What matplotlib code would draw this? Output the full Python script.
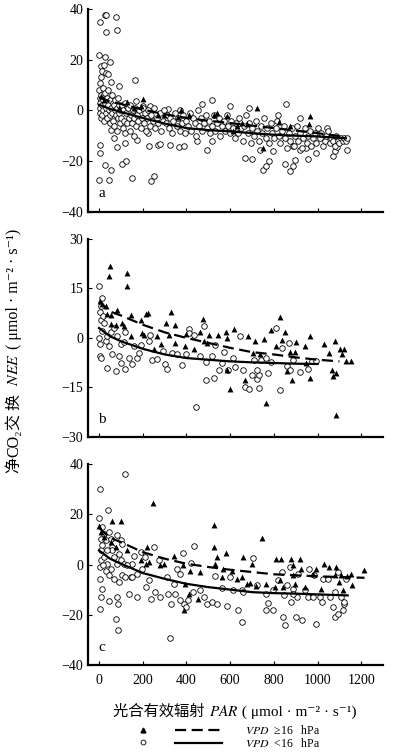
import numpy as np
import matplotlib
matplotlib.use("Agg")
import matplotlib.pyplot as plt
from matplotlib.lines import Line2D
from matplotlib.text import Annotation

plt.rcParams.update({
    'font.family': ['Liberation Serif', 'Noto Sans CJK SC', 'DejaVu Serif'],
    'mathtext.fontset': 'stix',
    'font.size': 10,
    'axes.linewidth': 1.6,
    'xtick.direction': 'in',
    'ytick.direction': 'in',
    'xtick.major.size': 3,
    'ytick.major.size': 3,
    'xtick.major.pad': 6,
})

# ---- panel a : (PAR, NEE) ----
a_low = np.array([  # VPD < 16 hPa
    (3, 34.9), (27, 37.8), (33, 37.8), (32, 30.9), (77, 36.8), (80, 31.6),
    (0, 22), (8, 17.6), (27, 21), (24, 18), (49, 19), (12, 15.4), (33, 14.7),
    (43, 14.5), (56, 11.4), (91, 9.7), (165, 12.1), (8, 13.2), (5, 10.8),
    (5, -13.8), (3, -16.8), (-2, -27.4), (26, -21.4), (47, -27.4), (56, -23.7),
    (80, -14.5), (103, -21), (123, -20), (118, -12.9), (152, -26.7), (238, -28),
    (250, -26), (228, -14.2), (272, -13.6), (280, -13.2), (323, -13.7),
    (366, -14.5), (387, -13.9), (53, -7.6), (68, -10.9), (175, -11.6), (223, -9),
    (496, -15.8), (515, -12.2), (448, -12.2), (669, -18.8), (700, -19.2),
    (751, -23.4), (766, -21.8), (779, -20), (850, -21), (873, -24.1), (888, -21.8),
    (897, -19.5), (956, -19.2), (991, -16.8), (1070, -18.2), (1078, -16.2),
    (1088, -14.6), (1134, -15.8), (736, -15.5), (795, -16.2), (888, -14.2),
    (918, -15.5), (948, -14.9), (469, 2.6), (516, 3.9), (597, 1.6), (685, 0.9),
    (820, -1.7), (855, 2.5), (921, -3), (1044, -7), (372, 0.3), (314, 0.5),
    (202, 1.8), (168, 3.6), (235, 1.8),
    (2, 8), (4, 5), (6, 3), (3, 1), (5, -1), (8, -3), (10, 6), (12, 2), (14, -2),
    (16, 9), (18, 4), (20, 0), (22, -4), (25, 7), (28, 3), (30, -1), (32, 1),
    (35, 5), (38, -3), (40, 2), (42, 8), (45, 0), (48, -2), (50, 4), (52, -5),
    (55, 1), (58, 6), (60, -1), (62, 3), (65, -4), (68, 2), (70, -6), (72, 0),
    (75, 4), (78, -2), (80, 1), (82, -8), (85, -3), (88, 5), (90, -1), (92, 2),
    (95, -5), (98, 0),
    (102, -3), (105, 2), (108, -7), (110, 0), (115, -4), (118, 3), (120, -9),
    (125, -1), (128, -5), (132, 1), (135, -3), (140, -8), (142, 2), (145, -2),
    (150, -5), (155, 0), (158, -10), (162, -3), (165, 1), (170, -6), (175, -2),
    (180, -4), (185, 0), (190, -7), (195, -3), (200, 1), (205, -5), (210, -1),
    (215, -8), (220, -3), (225, 0), (232, -6), (238, -2), (245, -4), (250, 1),
    (258, -7), (265, -3), (270, -5), (278, -1), (285, -8), (292, -4), (298, 0),
    (305, -5), (312, -2), (318, -7), (325, -3), (332, -9), (340, -4), (348, -1),
    (355, -6), (362, -3), (370, -8), (378, -5), (385, -2), (392, -9), (400, -4),
    (408, -6), (415, -1), (422, -8), (430, -3), (438, -5), (445, -10), (452, 0),
    (458, -6), (465, -3), (472, -8), (480, -5), (488, -2), (495, -7), (502, -4),
    (510, -9), (518, -6), (525, -2), (532, -8), (540, -5), (548, -3), (555, -10),
    (562, -6), (570, -4), (578, -8), (585, -2), (592, -6), (598, -9),
    (605, -4), (612, -7), (620, -11), (628, -5), (635, -9), (642, -3), (650, -7),
    (658, -12), (665, -6), (672, -2), (680, -9), (688, -5), (695, -13), (702, -7),
    (710, -10), (718, -4), (725, -8), (732, -12), (740, -6), (748, -9), (755, -3),
    (762, -11), (770, -7), (778, -13), (785, -5), (792, -9), (800, -11), (808, -7),
    (815, -4), (822, -10), (830, -13), (838, -8), (845, -6), (852, -11), (860, -15),
    (868, -9), (875, -12), (882, -7), (890, -14), (898, -10),
    (905, -6), (912, -12), (920, -9), (928, -15), (935, -11), (942, -7), (950, -13),
    (958, -10), (965, -8), (972, -14), (980, -11), (988, -9), (995, -13), (1002, -7),
    (1010, -11), (1018, -9), (1025, -14), (1032, -12), (1040, -10), (1048, -8),
    (1055, -13), (1062, -11), (1070, -12), (1078, -14), (1085, -10), (1092, -12),
    (1100, -13), (1108, -11), (1115, -12), (1122, -11), (1130, -12), (1135, -11),
])
a_high = np.array([  # VPD >= 16 hPa
    (129, 3.3), (202, 4.5), (194, 1.8), (269, -1.7), (296, -1.7), (376, 0.3),
    (360, -2.6), (410, -1.7), (524, -1.7), (539, -1), (584, -2.4), (630, -6),
    (653, -5), (675, -5.3), (721, 0.9), (751, -14.9), (824, -4.7), (873, -6),
    (964, -2.1), (961, -5.3), (615, -8.3), (23, 4.2), (8, 5.5), (91, 0.9),
    (159, 0.9),
])
a_fit_x = [0, 50, 100, 200, 300, 400, 500, 600, 700, 800, 900, 1000, 1130]
a_fit_high = [5.0, 3.6, 2.5, 0.3, -1.5, -3.0, -4.1, -5.0, -6.0, -7.0, -8.0, -9.0, -10.5]
a_fit_low = [2.2, 0.6, -0.6, -3.0, -5.2, -7.0, -7.8, -8.3, -9.0, -9.6, -10.0, -10.3, -11.0]

# ---- panel b ----
b_low = np.array([
    (0, 15.7), (15, 12.1), (5, 7.8), (8, 5.3), (23, 4.5), (11, 9.6), (0, 0),
    (3, -1.7), (15, 2), (30, -1), (38, 0.5), (3, -5.6), (8, -6.1), (35, -9.1),
    (61, -5), (76, -10.1), (91, -5.6), (99, -1.7), (118, -9.4), (121, 1.7),
    (137, -6.1), (152, -7.9), (159, -2.3), (175, -6.1), (182, -4.5), (190, -2),
    (228, -1), (235, 1), (243, -6.6), (266, -6.4), (291, -4), (304, -7.9),
    (311, -9.4), (334, -4.5), (357, -5), (380, -8.1), (399, -5), (410, 2.7),
    (410, 1.5), (433, 1), (445, -20.9), (478, 3.5), (463, -5.6), (490, -12.6),
    (490, -7.4), (516, -5.4), (524, -12.1), (531, -2), (551, -9.8), (562, -7.6),
    (573, -4.3), (592, -9.6), (615, -6.1), (622, -8.8), (645, 0.5), (657, -9.8),
    (669, -15), (686, -15.4), (698, -11.1), (709, -6.6), (721, -12.4),
    (730, -15.2), (733, -11.1), (739, -6.8), (762, -6.1), (774, -10.6),
    (785, -7.4), (812, 3), (827, -15.9), (839, -3), (858, -8.6), (870, -1.5),
    (873, -9.6), (888, -6.6), (921, -10.4), (956, -9.4), (976, -7.1), (995, -7.1),
    (114, -1.3), (83, 0.5), (53, 1.7), (46, -2.5), (18, 6.6), (68, 3),
    (99, -7.6), (721, -9.6),
])
b_high = np.array([
    (49, 21.9), (46, 18.7), (129, 19.7), (129, 15.7), (5, 11.1), (15, 10.4),
    (30, 9.6), (38, 7.1), (53, 6.8), (80, 8.4), (53, 4.3), (76, 4), (114, 3.7),
    (106, 4.5), (144, 6.8), (144, 0.7), (190, 5.4), (213, 7.1), (223, 7.6),
    (197, 1.5), (205, 1), (285, -1.7), (308, 4.5), (331, 7.8), (348, 4),
    (319, 1), (346, -1.5), (395, -2.3), (399, 1.3), (436, -3.3), (475, 5.8),
    (460, 1.7), (478, -1), (493, -1.5), (501, 1), (546, 1), (581, 1.7), (584, 0),
    (619, 2.7), (597, -15.5), (584, -9.6), (683, 0.5), (712, -1), (668, -12.6),
    (706, -4.5), (736, -5), (762, -19.7), (755, -0.2), (785, 2.3), (830, 6.4),
    (812, -2.5), (839, -0.5), (850, 1.7), (858, -10.1), (873, -4.3),
    (882, -12.6), (903, -1.3), (896, -4.3), (941, -2.5), (967, 0.7),
    (964, -12.1), (949, -7.6), (1029, -1.7), (1052, -4.5), (1067, -9.6),
    (1070, -11.6), (1078, -1), (1085, -10.6), (1085, -23.2), (1105, -3.5),
    (1120, -3.5), (1113, -5), (1128, -7.1), (1155, -7.1), (250, -3.5), (265, 0.5),
])
b_fit_x_high = [0, 50, 100, 200, 300, 400, 500, 600, 700, 800, 900, 1000, 1100]
b_fit_high = [11.1, 8.0, 6.8, 4.0, 1.7, 0.0, -1.5, -3.0, -4.3, -5.0, -5.9, -6.6, -7.1]
b_fit_x_low = [0, 50, 100, 200, 300, 400, 500, 600, 700, 800, 900, 1000]
b_fit_low = [3.0, 0.5, -1.0, -3.3, -5.0, -6.1, -6.6, -7.1, -7.4, -7.6, -7.8, -7.9]

# ---- panel c ----
c_low = np.array([
    (5, 30.2), (121, 36.2), (41, 21.9), (0, 18.7), (5, -17.5),
    (11, -12.9), (15, -9.5), (46, -14.5), (76, -21.5), (87, -26.1), (84, -12.9),
    (87, -15.5), (5, -5.6), (15, 15), (23, 12.3), (30, 9.7), (46, 13), (53, 10.3),
    (61, 7), (83, 11.7), (99, 9.7), (106, 8.4), (8, 5.7), (8, 1.7), (5, -0.9),
    (23, 3), (38, 0.4), (53, -1.6), (61, 5.7), (68, 3), (91, 4.4), (99, 1.7),
    (114, 0.4), (30, -2.3), (46, -4.2), (68, -5.6), (91, -6.9), (106, -4.2),
    (121, -4.9), (137, -11.5), (144, -4.9), (152, 0.4), (159, 3.3), (175, -3.6),
    (175, -12.9), (190, 5), (197, -1.6), (208, 3), (217, -8.9), (228, -6.2),
    (238, -13.5), (250, 7), (258, -10.9), (273, 1.7), (281, -12.9), (311, -4.9),
    (314, -11.5), (326, -29), (329, -15.5), (342, -7.6), (349, -11.5),
    (357, -1.6), (372, -3.8), (369, -14.2), (384, 4.6), (390, -15.8),
    (399, -16.8), (405, -14.2), (420, 0.7), (429, -10.9), (436, 7.3),
    (463, -10.2), (478, -12.9), (493, -15.8), (516, -14.9), (531, -4.6),
    (539, -15.8), (562, -9.2), (584, -16.6), (600, -4.9), (615, -9.9),
    (638, -18.2), (653, -10.2), (653, -22.8), (660, -10.9), (703, 2.8),
    (721, -8.2), (766, -18.2), (774, -15.3), (797, -17.9), (797, -10.2),
    (820, -6.2), (835, -2.9), (840, -20.6), (850, -24.1), (846, -12.2),
    (858, -8.2), (873, -0.9), (880, -14.9), (888, -9.5), (903, -20.8),
    (906, -12.9), (911, -3.6), (930, -21.9), (941, -10.2), (956, -12.9),
    (961, -1.6), (982, -4.2), (991, -23.7), (1009, -12.9), (1021, -14.9),
    (1024, -5.6), (1047, -5.6), (1058, -12.9), (1070, -16.8), (1078, -10.9),
    (1082, -20.8), (1093, -2.9), (1093, -19.5), (1108, -12.9), (1116, -18.2),
    (1119, -15.8), (1123, -14.9), (1131, -5.6), (20, -0.3), (15, 7.7), (38, 5.7),
    (84, 0.4), (129, -0.3), (152, -4.9), (8, 10.3), (766, -11.5), (888, -11.5),
    (979, -12.9),
])
c_high = np.array([
    (0, 15.6), (58, 17.4), (102, 17.2), (8, 13), (23, 11), (53, 9), (129, 5.7),
    (76, 7), (247, 24.5), (190, 1.7), (220, 7), (228, 1.1), (213, 0.4),
    (278, -0.3), (296, 0.4), (342, 3.3), (384, -0.3), (417, -2.3), (395, -7.6),
    (390, -17.9), (410, -11.5), (463, -2.9), (451, -13.5), (524, 16), (524, 7),
    (539, 3), (531, 0.4), (569, -1.6), (580, 4.6), (562, -4.9), (607, -2.3),
    (630, -5.6), (657, 3), (653, -4.9), (698, 0.4), (691, -7.3), (718, -8.6),
    (746, 10.7), (762, -7.6), (805, -8.9), (812, 2.4), (832, 2.4), (827, -6.2),
    (842, -8.9), (880, 2.3), (921, 2.3), (888, -4.2), (896, -7.6), (926, -1.6),
    (941, -8.9), (979, -3.6), (995, -1.6), (1029, 0.4), (1014, -9.5),
    (1052, -0.9), (1078, -4.2), (1085, -0.9), (1097, -6.9), (1108, -4.2),
    (1116, -10.2), (1134, -4.6), (1154, -3.6), (1158, -8.2), (1214, -2),
    (888, -0.3), (676, -7.6),
])
c_fit_x_high = [0, 50, 100, 200, 300, 400, 500, 600, 700, 800, 900, 1000, 1100, 1215]
c_fit_high = [14.7, 10.7, 9.0, 5.0, 2.4, 0.4, -0.9, -2.0, -2.9, -3.8, -4.2, -4.6, -4.9, -5.2]
c_fit_x_low = [0, 50, 100, 200, 300, 400, 500, 600, 700, 800, 900, 1000, 1138]
c_fit_low = [5.7, 2.4, 0.4, -3.3, -5.6, -7.6, -8.9, -9.9, -10.9, -11.3, -11.5, -11.8, -12.2]

x_ticks = [0, 200, 400, 600, 800, 1000, 1200]

panels = [
    ('a', a_low, a_high, (a_fit_x, a_fit_high), (a_fit_x, a_fit_low), (-40, 40), [-40, -20, 0, 20, 40]),
    ('b', b_low, b_high, (b_fit_x_high, b_fit_high), (b_fit_x_low, b_fit_low), (-30, 30), [-30, -15, 0, 15, 30]),
    ('c', c_low, c_high, (c_fit_x_high, c_fit_high), (c_fit_x_low, c_fit_low), (-40, 40), [-40, -20, 0, 20, 40]),
]
boxes = [(0.720, 0.988), (0.422, 0.684), (0.120, 0.386)]
DASH = (0, (5, 2.5))
UNIT = ' ( μmol · m⁻² · s⁻¹)'


def chain_text(fig, x, y, pieces, vertical=False, fontsize=10.5):
    """Write text pieces one after another (lets CJK and mathtext parts mix)."""
    t = fig.text(x, y, pieces[0], fontsize=fontsize, ha='left', va='baseline',
                 rotation=90 if vertical else 0, rotation_mode='anchor')
    for p in pieces[1:]:
        if vertical:
            ann = Annotation(p, xy=(x, 1), xycoords=('figure fraction', t),
                             rotation=90, rotation_mode='anchor',
                             ha='left', va='baseline', fontsize=fontsize)
        else:
            ann = Annotation(p, xy=(1, y), xycoords=(t, 'figure fraction'),
                             ha='left', va='baseline', fontsize=fontsize)
        fig.add_artist(ann)
        t = ann
    return t


fig = plt.figure(figsize=(3.97, 7.56), dpi=100)
left, right = 0.222, 0.965

for (letter, low, high, fit_h, fit_l, ylim, yticks), (bot, top) in zip(panels, boxes):
    ax = fig.add_axes([left, bot, right - left, top - bot])
    ax.scatter(low[:, 0], low[:, 1], s=16, facecolors='white', edgecolors='black',
               linewidths=0.6, zorder=2)
    ax.scatter(high[:, 0], high[:, 1], s=18, marker='^', color='black',
               linewidths=0, zorder=3)
    ax.plot(fit_h[0], fit_h[1], color='black', lw=1.6, ls=DASH, zorder=4)
    ax.plot(fit_l[0], fit_l[1], color='black', lw=1.6, zorder=4)
    ax.set_xlim(-50, 1300)
    ax.set_ylim(*ylim)
    ax.set_yticks(yticks)
    ax.set_xticks(x_ticks)
    ax.spines['top'].set_visible(False)
    ax.spines['right'].set_visible(False)
    ax.text(0.045, 0.09, letter, transform=ax.transAxes, fontsize=11,
            ha='center', va='center')
    if letter != 'c':
        ax.tick_params(labelbottom=False)

# axis titles
chain_text(fig, 0.285, 0.053, ['光合有效辐射 ', '$PAR$', UNIT], fontsize=11)
chain_text(fig, 0.046, 0.374, ['净', 'CO₂', '交 换  ', '$NEE$', UNIT],
           vertical=True, fontsize=11.5)

# legend: marker column and line column
mark_handles = [
    Line2D([], [], marker='^', color='black', ls='none', markersize=3.5),
    Line2D([], [], marker='o', markerfacecolor='white', markeredgecolor='black',
           ls='none', markersize=3.5, markeredgewidth=0.6),
]
line_handles = [
    Line2D([], [], color='black', lw=1.6, ls=DASH),
    Line2D([], [], color='black', lw=1.6),
]
line_labels = ['$VPD$  ≥16   hPa', '$VPD$  <16   hPa']
fig.legend(mark_handles, ['', ''], loc='center left', handlelength=1,
           handletextpad=0, bbox_to_anchor=(0.345, 0.0245), frameon=False,
           fontsize=8.5, borderpad=0, borderaxespad=0, labelspacing=0)
fig.legend(line_handles, line_labels, loc='center left', handlelength=4.0,
           handletextpad=1.9, bbox_to_anchor=(0.441, 0.0245), frameon=False,
           fontsize=8.5, borderpad=0, borderaxespad=0, labelspacing=0)

fig.savefig('out.png', dpi=100)
